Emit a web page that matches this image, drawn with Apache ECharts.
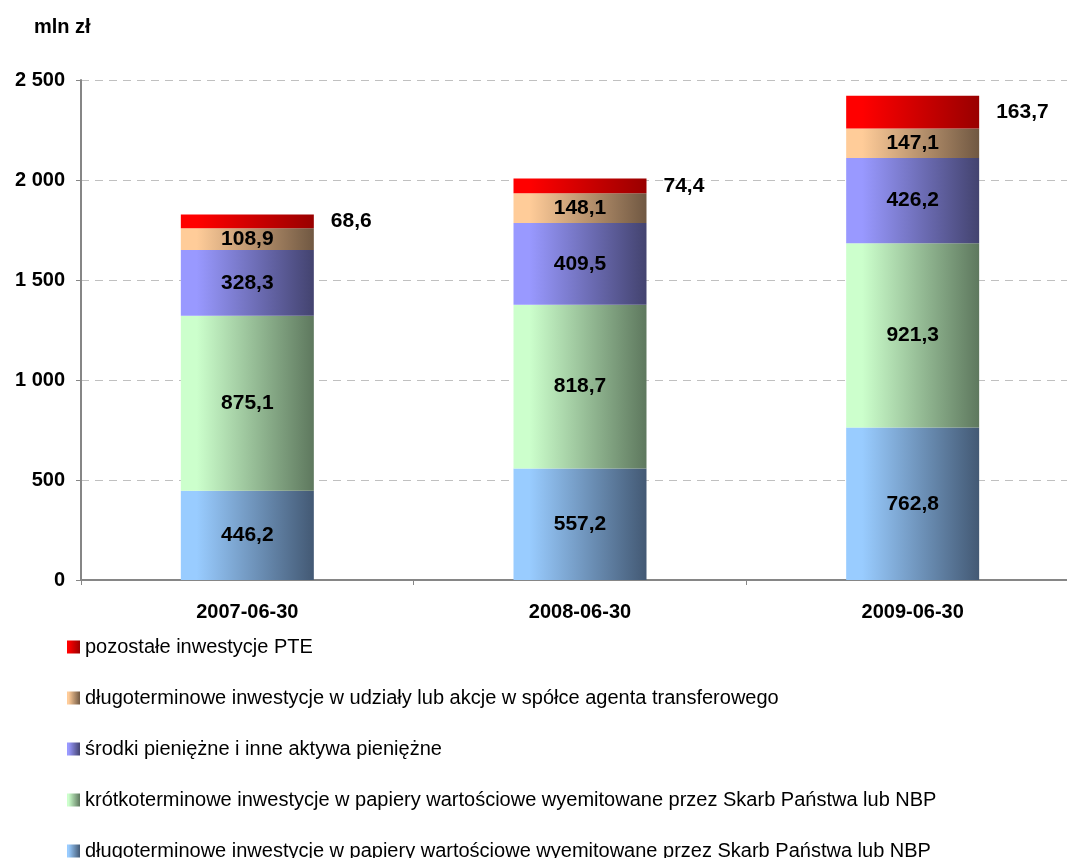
<!DOCTYPE html>
<html>
<head>
<meta charset="utf-8">
<script src="https://cdn.jsdelivr.net/npm/echarts@6/dist/echarts.min.js"></script>
<style>
  html, body { margin: 0; padding: 0; background: #fff; }
  #chart { width: 1067px; height: 858px; }
</style>
</head>
<body>
<div id="chart"></div>
<script>
// dane (mln zł)
const categories = ["2007-06-30", "2008-06-30", "2009-06-30"];
const yTicks = [0, 500, 1000, 1500, 2000, 2500];

const dlugoPapiery = [446.2, 557.2, 762.8];
const kroPapiery = [875.1, 818.7, 921.3];
const srodki = [328.3, 409.5, 426.2];
const udzialy = [108.9, 148.1, 147.1];
const pozostale = [68.6, 74.4, 163.7];

const names = [
  "długoterminowe inwestycje w papiery wartościowe wyemitowane przez Skarb Państwa lub NBP",
  "krótkoterminowe inwestycje w papiery wartościowe wyemitowane przez Skarb Państwa lub NBP",
  "środki pieniężne i inne aktywa pieniężne",
  "długoterminowe inwestycje w udziały lub akcje w spółce agenta transferowego",
  "pozostałe inwestycje PTE"
];

const FONT = "'Liberation Sans', Arial, sans-serif";

function grad(light, dark) {
  return new echarts.graphic.LinearGradient(0, 0, 1, 0, [
    { offset: 0, color: light },
    { offset: 0.12, color: light },
    { offset: 1, color: dark }
  ]);
}

function fmt(v) {
  return v.toFixed(1).replace(".", ",");
}

function makeSeries(name, data, light, dark, outside) {
  return {
    name: name,
    type: "bar",
    stack: "total",
    barWidth: 133,
    data: data,
    itemStyle: { color: grad(light, dark) },
    label: {
      show: true,
      position: outside ? "right" : "inside",
      distance: outside ? 17 : 5,
      formatter: p => fmt(p.value),
      color: "#000",
      fontFamily: FONT,
      fontWeight: "bold",
      fontSize: 21
    }
  };
}

const chart = echarts.init(document.getElementById("chart"));
chart.setOption({
  animation: false,
  backgroundColor: "#fff",
  title: {
    text: "mln zł",
    left: 29,
    top: 12,
    textStyle: { fontFamily: FONT, fontWeight: "bold", fontSize: 20, color: "#000" }
  },
  grid: {
    left: 81,
    top: 80,
    width: 998,
    height: 500,
    outerBoundsMode: "none"
  },
  legend: {
    orient: "vertical",
    left: 62,
    top: 632,
    height: 400,
    itemWidth: 13,
    itemHeight: 13,
    itemGap: 31,
    icon: "rect",
    data: names.slice().reverse(),
    textStyle: { fontFamily: FONT, fontSize: 20, color: "#000" }
  },
  xAxis: {
    type: "category",
    data: categories,
    axisLine: { lineStyle: { color: "#868686", width: 2 } },
    axisTick: { show: true, length: 5, lineStyle: { color: "#868686" } },
    axisLabel: {
      margin: 22,
      color: "#000",
      fontFamily: FONT,
      fontWeight: "bold",
      fontSize: 20
    }
  },
  yAxis: {
    type: "value",
    min: yTicks[0],
    max: yTicks[yTicks.length - 1],
    interval: 500,
    axisLine: { show: true, lineStyle: { color: "#868686", width: 2 } },
    axisTick: { show: true, length: 5, lineStyle: { color: "#868686" } },
    splitLine: { lineStyle: { color: "#c0c0c0", type: [8, 6] } },
    axisLabel: {
      margin: 16,
      color: "#000",
      fontFamily: FONT,
      fontWeight: "bold",
      fontSize: 20,
      formatter: v => String(v).replace(/\B(?=(\d{3})+(?!\d))/g, " ")
    }
  },
  series: [
    makeSeries(names[0], dlugoPapiery, "#99ccff", "#435974", false),
    makeSeries(names[1], kroPapiery, "#ccffcc", "#5e785e", false),
    makeSeries(names[2], srodki, "#9999ff", "#43436f", false),
    makeSeries(names[3], udzialy, "#ffcc99", "#705842", false),
    makeSeries(names[4], pozostale, "#ff0000", "#990000", true)
  ]
});
</script>
</body>
</html>
